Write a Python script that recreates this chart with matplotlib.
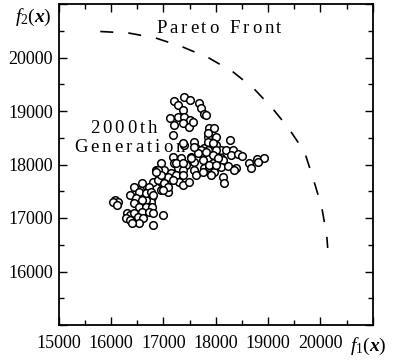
import matplotlib
matplotlib.use("Agg")
import matplotlib.pyplot as plt
from matplotlib.ticker import MultipleLocator, FixedLocator, FixedFormatter
from matplotlib.transforms import offset_copy
from matplotlib import font_manager, ft2font

plt.rcParams['font.family'] = ['Liberation Serif', 'DejaVu Serif']
plt.rcParams['mathtext.fontset'] = 'custom'
plt.rcParams['mathtext.rm'] = 'Liberation Serif'
plt.rcParams['mathtext.it'] = 'Liberation Serif:italic'
plt.rcParams['mathtext.bf'] = 'Liberation Serif:bold:italic'
plt.rcParams['lines.scale_dashes'] = False

# ---- data ----
front_f1 = [15794, 16333, 16852, 17371, 17871, 18333, 18717, 19063, 19390,
            19698, 19871, 20025, 20121, 20140]
front_f2 = [20486, 20458, 20365, 20196, 19991, 19729, 19430, 19075, 18682,
            18234, 17711, 17206, 16682, 16440]

gen_f1 = [
    17200, 17390, 17510, 17680, 17280, 17370, 17720, 17780, 17120, 17280, 17390, 17510,
    17200, 17370, 17490, 17180,
    17560, 17870, 17970, 17850, 18010, 18280, 17870, 18010, 17780, 18100, 18200, 18330,
    17970, 18290, 18430, 18510, 17850, 18100, 17950, 18140, 18780, 18930, 18640, 18680,
    18100, 18240, 18390, 17780, 17870, 17970, 17810, 17910, 18140, 18160, 18350, 18810,
    17850, 17580, 17850, 17950, 17620, 17720, 17850, 18010, 17390,
    17180, 17330, 17530, 17660, 17810, 17950, 18040, 17580, 17760, 17870, 18010, 17200,
    17280, 17430, 17370, 16950, 16850, 17010, 17140, 16910, 17080, 17240, 17370, 17580,
    17620, 17760, 16810, 16950, 17040, 16950, 17080, 17290, 17370, 17490, 16620, 16560,
    16700, 16790, 16760, 16660, 16620, 16720, 16560, 16890, 17240, 17370, 17530, 17580,
    17370,
    16430, 16600, 16720, 16530, 16660, 16760, 16370, 16470, 16600, 16810, 16430, 16530,
    16660, 16790, 16600, 16720, 16810, 16080, 16140, 16040, 16120, 16310, 16370, 16430,
    16280, 16370, 16510, 16620, 16530, 16410, 16990, 16810, 16890, 16950, 17010, 17080,
    16990, 17180, 16850,
]
gen_f2 = [
    19190, 19260, 19210, 19150, 19110, 19020, 19060, 18940, 18870, 18890, 18890, 18830,
    18740, 18780, 18700, 18550,
    18800, 18680, 18680, 18510, 18510, 18460, 18400, 18370, 18310, 18270, 18270, 18270,
    18180, 18180, 18200, 18160, 18120, 18120, 18030, 18080, 18100, 18120, 18030, 17940,
    17950, 17970, 17940, 17940, 17950, 17860, 18930, 17800, 17770, 17650, 17900, 18050,
    18590, 18420, 18420, 18400, 18310, 18270, 18270, 18270, 18370,
    18140, 18120, 18140, 18220, 18230, 18180, 18120, 18050, 18080, 17990, 17990, 18030,
    17940, 17990, 17900, 18030, 17900, 17900, 17840, 17800, 17770, 17800, 17800, 17900,
    17800, 17860, 17670, 17670, 17620, 17520, 17490, 17670, 17620, 17670, 17580, 17520,
    17470, 17390, 17300, 17340, 17210, 17210, 17340, 17900, 18030, 18030, 18120, 18330,
    18400,
    17580, 17650, 17580, 17490, 17470, 17490, 17430, 17370, 17340, 17430, 17280, 17210,
    17210, 17210, 17110, 17110, 17090, 17340, 17300, 17300, 17240, 17090, 17060, 17090,
    17000, 16960, 17020, 17000, 16910, 16910, 17060, 16870, 17710, 17800, 17650, 17580,
    17520, 17710, 17860,
]

xtick_vals = [15000, 16000, 17000, 18000, 19000, 20000, 21000]
xtick_labels = ['15000', '16000', '17000', '18000', '19000', '20000', '']
ytick_vals = [15000, 16000, 17000, 18000, 19000, 20000, 21000]
ytick_labels = ['', '16000', '17000', '18000', '19000', '20000', '']

W, H = 393, 361
fig = plt.figure(figsize=(W / 100, H / 100), dpi=100)
ax = fig.add_axes([58.7 / W, 1 - 325 / H, (372.7 - 58.7) / W, (325 - 4) / H])

ax.plot(front_f1, front_f2, color='black', lw=1.2, dashes=(9.4, 10.8))
ax.scatter(gen_f1, gen_f2, s=30, facecolors='white', edgecolors='black',
           linewidths=1.1, zorder=3)

ax.set_xlim(15000, 21000)
ax.set_ylim(15000, 21000)
ax.xaxis.set_major_locator(FixedLocator(xtick_vals))
ax.xaxis.set_major_formatter(FixedFormatter(xtick_labels))
ax.yaxis.set_major_locator(FixedLocator(ytick_vals))
ax.yaxis.set_major_formatter(FixedFormatter(ytick_labels))
ax.xaxis.set_minor_locator(MultipleLocator(500))
ax.yaxis.set_minor_locator(MultipleLocator(500))
ax.tick_params(which='both', direction='in', top=True, right=True, width=1.0,
               labelsize=13)
ax.tick_params(which='major', length=6)
ax.tick_params(which='minor', length=3.5)
ax.tick_params(axis='x', pad=7)
ax.tick_params(axis='y', pad=4)
for sp in ax.spines.values():
    sp.set_linewidth(1.3)

# letter-spaced annotation text
fp = font_manager.FontProperties(family='Liberation Serif', size=13.5)
font = font_manager.get_font(font_manager.findfont(fp))
font.set_size(13.5, 100)


def spaced_text(x, y, s, tracking):
    advs = []
    for ch in s:
        g = font.load_char(ord(ch), flags=ft2font.LoadFlags.NO_HINTING)
        advs.append(g.linearHoriAdvance / 65536)
    total = sum(advs) + tracking * (len(s) - 1)
    off = -total / 2
    for ch, a in zip(s, advs):
        tr = offset_copy(ax.transData, fig=fig, x=off, y=0, units='dots')
        ax.text(x, y, ch, transform=tr, fontproperties=fp, ha='left',
                va='baseline', zorder=2)
        off += a + tracking


spaced_text(18063, 20458, 'Pareto Front', 2.9)
spaced_text(16238, 18589, '2000th', 3.1)
spaced_text(16352, 18234, 'Generation', 3.1)

fig.text(33 / W, 1 - 22 / H, r'$f_2(\mathbf{x})$', fontsize=14,
         ha='center', va='baseline')
fig.text(368.5 / W, 1 - 350.5 / H, r'$f_1(\mathbf{x})$', fontsize=14,
         ha='center', va='baseline')

fig.savefig('out.png', dpi=100)
